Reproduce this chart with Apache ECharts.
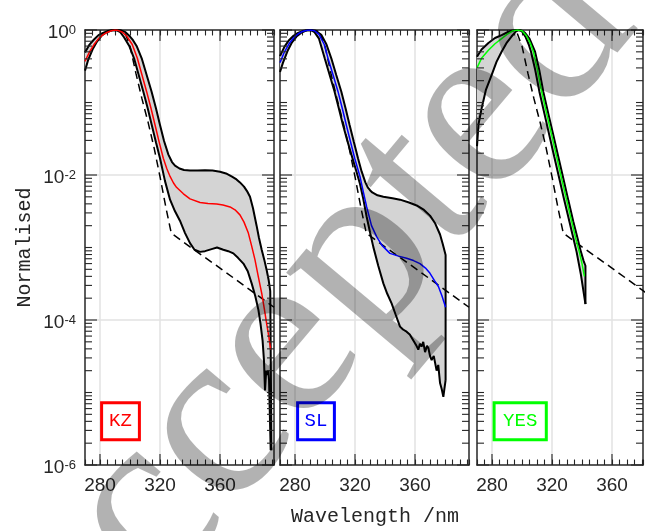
<!DOCTYPE html>
<html><head><meta charset="utf-8">
<script src="https://cdn.jsdelivr.net/npm/echarts@6/dist/echarts.min.js"></script>
<style>html,body{margin:0;padding:0;background:#fff}#c{width:647px;height:531px}</style>
</head><body><div id="c"></div>
<script>
// ---------------- data (wavelength in nm, normalised value) ----------------
const refWl  = [293, 296, 300, 304, 308, 312, 316, 320, 324, 327.5, 340, 360, 380, 396];
const refVal = [2.0, 1.0, 0.60, 0.25, 0.112, 0.054, 0.024, 0.0095, 0.0035, 0.00158, 0.00102, 5.2e-4, 2.6e-4, 1.5e-4];

// KZ
const kzHiWl  = [270, 273, 276, 279, 282, 285, 288, 291, 294, 297, 300, 302, 304.4, 307.8, 311.1, 314.4, 317.3, 320, 322.7, 325.6, 328, 330, 333, 336, 340, 345, 350, 355, 360, 364, 368, 371, 373.3, 376, 378, 380, 382, 384.4, 386, 387.8, 389.5, 391.1, 392.5, 393.5, 394.3];
const kzHiVal = [0.49, 0.63, 0.74, 0.85, 0.91, 0.966, 0.993, 1, 0.989, 0.933, 0.813, 0.724, 0.603, 0.407, 0.240, 0.141, 0.0832, 0.0490, 0.0295, 0.0191, 0.0151, 0.0135, 0.0123, 0.0117, 0.0115, 0.0115, 0.0116, 0.0115, 0.0111, 0.0105, 0.0095, 0.0087, 0.0079, 0.0069, 0.0060, 0.0050, 0.00347, 0.0020, 0.00135, 9.3e-4, 6.8e-4, 4.9e-4, 3.5e-4, 2.5e-4, 1.6e-6];
const kzMidWl  = [270, 273, 276, 279, 282, 285, 288, 290, 292, 295, 298, 301.5, 304.9, 308, 311.1, 314, 316.7, 319.5, 322.2, 324.5, 326.7, 329, 331, 335.6, 340, 346.7, 352, 357.8, 362, 366.7, 370, 373.3, 376, 378.9, 381, 383.3, 385.5, 387.8, 389.5, 391.1, 392.5, 393.8];
const kzMidVal = [0.37, 0.50, 0.63, 0.76, 0.86, 0.933, 0.982, 1, 0.989, 0.933, 0.813, 0.631, 0.407, 0.240, 0.141, 0.0832, 0.0490, 0.0282, 0.0170, 0.0123, 0.00955, 0.00776, 0.00676, 0.0055, 0.00468, 0.00417, 0.00403, 0.00398, 0.00385, 0.00363, 0.00331, 0.00282, 0.00224, 0.00158, 0.00107, 6.8e-4, 4.0e-4, 2.34e-4, 1.45e-4, 8.9e-5, 6.0e-5, 3.9e-5];
const kzLoWl  = [270, 272, 275, 278, 281, 284, 287, 289, 291, 293.5, 296, 299.5, 302.7, 305.8, 308.9, 311.8, 314.5, 317.3, 320, 323.3, 326.7, 330, 333.3, 336.7, 340, 343, 346.7, 350, 354.4, 358, 362.2, 365.5, 368.9, 372, 375.6, 378.5, 381.1, 383.5, 385.6, 387, 388.4, 389.3, 390, 390.8, 391.6, 392.2, 392.7, 393.8];
const kzLoVal = [0.275, 0.38, 0.537, 0.692, 0.832, 0.923, 0.977, 1, 0.993, 0.933, 0.794, 0.603, 0.407, 0.240, 0.141, 0.0832, 0.0490, 0.0282, 0.0170, 0.0083, 0.00457, 0.00316, 0.00234, 0.00158, 0.00115, 9.3e-4, 8.7e-4, 8.9e-4, 9.5e-4, 1.0e-3, 9.3e-4, 8.9e-4, 8.3e-4, 7.2e-4, 6.0e-4, 4.7e-4, 3.2e-4, 2.14e-4, 1.38e-4, 8.9e-5, 5.2e-5, 2.8e-5, 1.07e-5, 2.0e-5, 1.74e-5, 2.0e-5, 1.48e-5, 1.6e-6];

// SL
const slHiWl  = [270, 273, 276, 279, 282, 285, 288, 291, 294, 297.6, 301, 304.2, 307.5, 310.9, 313.7, 316.4, 319.2, 322, 324.4, 326.9, 328.5, 330, 331.5, 335, 338.9, 345, 350, 356, 361.1, 366, 370, 373.5, 376.7, 378.5, 380.4, 380.4];
const slHiVal = [0.437, 0.589, 0.724, 0.832, 0.912, 0.966, 0.993, 1, 0.977, 0.851, 0.631, 0.407, 0.240, 0.141, 0.0832, 0.049, 0.0288, 0.017, 0.0112, 0.0079, 0.00676, 0.00617, 0.00575, 0.00525, 0.005, 0.00479, 0.00457, 0.00417, 0.0038, 0.0033, 0.00275, 0.00214, 0.00151, 0.00112, 7.9e-4, 1.48e-5];
const slMidWl  = [270, 273, 276, 279, 282, 285, 288, 290.5, 293, 296, 299.5, 302, 305.4, 308.7, 311.5, 314.2, 317, 319.8, 323.3, 325.5, 327.8, 331, 334.4, 338, 343.3, 349, 354.4, 359, 363.3, 367, 370, 373, 375.6, 378, 380.4];
const slMidVal = [0.355, 0.501, 0.646, 0.776, 0.881, 0.955, 0.991, 1, 0.977, 0.871, 0.631, 0.407, 0.240, 0.141, 0.0832, 0.049, 0.0288, 0.017, 0.00955, 0.00589, 0.00363, 0.002, 0.00141, 0.00107, 8.3e-4, 7.6e-4, 7.1e-4, 6.6e-4, 6.0e-4, 5.2e-4, 4.4e-4, 3.5e-4, 2.9e-4, 2.14e-4, 1.5e-4];
const slLoWl  = [270, 272, 275, 278, 281, 284, 287, 289, 291, 293, 296, 299.8, 303.1, 306.4, 309.2, 312, 314.8, 317.6, 320.5, 323.3, 325.5, 327.8, 330, 332.2, 335.5, 338.9, 341.5, 344.4, 347, 350, 352, 354.4, 356.5, 358.9, 361, 362.2, 363.3, 364.4, 365.5, 366.7, 368, 368.9, 370, 371.1, 372.5, 373.5, 374.4, 375.5, 376.7, 377.8, 378.9, 379.6, 380.4];
const slLoVal = [0.263, 0.355, 0.513, 0.676, 0.813, 0.912, 0.977, 1, 0.989, 0.933, 0.759, 0.407, 0.240, 0.141, 0.0832, 0.049, 0.0302, 0.0191, 0.012, 0.00759, 0.00468, 0.00263, 0.00162, 0.00102, 5.6e-4, 3.2e-4, 2.3e-4, 1.7e-4, 1.2e-4, 8.1e-5, 7.4e-5, 6.9e-5, 6.3e-5, 5.2e-5, 4.4e-5, 3.9e-5, 4.7e-5, 4.3e-5, 5.0e-5, 3.6e-5, 4.4e-5, 4.1e-5, 3.2e-5, 2.8e-5, 3.2e-5, 2.5e-5, 2.0e-5, 2.4e-5, 1.35e-5, 1.12e-5, 8.7e-6, 1.12e-5, 1.48e-5];

// YES
const yesHiWl  = [270, 273, 277.6, 282, 286.4, 290, 293, 296, 298, 300, 302, 305, 308.7, 311.5, 314.2, 317.5, 320.9, 324.2, 327.6, 330.9, 334.2, 337, 339.3, 341, 342.3, 342.3];
const yesHiVal = [0.427, 0.537, 0.661, 0.776, 0.851, 0.923, 0.977, 1, 1, 0.977, 0.912, 0.759, 0.501, 0.282, 0.141, 0.0708, 0.0355, 0.0178, 0.0089, 0.00447, 0.00229, 0.00135, 8.7e-4, 6.6e-4, 5.6e-4, 1.66e-4];
const yesMidWl  = [270, 273, 277.6, 282, 286.4, 290, 294, 297, 300, 303, 305.5, 307.6, 310.3, 313.1, 316.4, 319.8, 323.1, 326.4, 329.8, 333.1, 336, 338.2, 340, 341.6];
const yesMidVal = [0.302, 0.407, 0.525, 0.646, 0.759, 0.871, 0.977, 1, 0.977, 0.832, 0.661, 0.501, 0.282, 0.141, 0.0708, 0.0355, 0.0178, 0.0089, 0.00447, 0.00229, 0.00129, 8.7e-4, 6.0e-4, 4.0e-4];
const yesLoWl  = [270, 271, 273.1, 276, 279.8, 283, 286.4, 290, 293, 296, 298, 300, 302.5, 304.5, 306, 308.8, 311.6, 314.9, 318.2, 321.5, 324.9, 328.2, 331.6, 334, 336.4, 339.3, 342.3];
const yesLoVal = [0.025, 0.05, 0.0832, 0.151, 0.24, 0.363, 0.501, 0.676, 0.813, 0.955, 1, 0.955, 0.794, 0.631, 0.501, 0.282, 0.141, 0.0708, 0.0355, 0.0178, 0.0089, 0.00447, 0.00229, 0.00141, 8.7e-4, 4.2e-4, 1.66e-4];

const panelNames  = ['KZ', 'SL', 'YES'];
const panelColors = ['#ff0000', '#0000ff', '#00ff00'];

// ticks / labels
const xTickLabels = [280, 320, 360];
const yLabelExps = [0, -2, -4, -6];
const yMajorTicks = [1e-6, 1e-4, 1e-2, 1];
const yGridVals = [1e-4, 1e-2];
const yMinorDecades = [1e-6, 1e-5, 1e-4, 1e-3, 1e-2, 1e-1];
const yMinorMults = [1, 2, 3, 4, 5, 6, 7, 8, 9];

// ---------------- layout ----------------
const gridBoxes = [
  {left: 85, top: 30, width: 189, height: 435},
  {left: 280, top: 30, width: 189, height: 435},
  {left: 477, top: 30, width: 166, height: 435}
];
const xMin = 270;
const xMaxs = [396, 396, 380.67];
const AX = '#262626';

const yMinorTicks = [];
yMinorDecades.forEach(d => yMinorMults.forEach(m => {
  const v = m * d;
  if (!(m === 1 && yMajorTicks.indexOf(d) >= 0)) yMinorTicks.push(v);
}));

const zip = (a, b) => a.map((w, i) => [w, b[i]]);

const xAxes = [], yAxes = [], series = [];
const panels = [
  {hiWl: kzHiWl, hiVal: kzHiVal, midWl: kzMidWl, midVal: kzMidVal, loWl: kzLoWl, loVal: kzLoVal},
  {hiWl: slHiWl, hiVal: slHiVal, midWl: slMidWl, midVal: slMidVal, loWl: slLoWl, loVal: slLoVal},
  {hiWl: yesHiWl, hiVal: yesHiVal, midWl: yesMidWl, midVal: yesMidVal, loWl: yesLoWl, loVal: yesLoVal}
];

panels.forEach((p, i) => {
  ['bottom', 'top'].forEach(pos => {
    xAxes.push({
      type: 'value', gridIndex: i, position: pos, min: xMin, max: xMaxs[i], interval: 5,
      axisLine: {show: true, onZero: false, lineStyle: {color: AX, width: 1.5}},
      axisTick: {show: true, inside: true, length: 5.5, lineStyle: {color: AX, width: 1.1}},
      axisLabel: {show: pos === 'bottom', margin: 11, color: AX, fontSize: 19, fontFamily: 'Liberation Sans',
        formatter: v => xTickLabels.indexOf(v) >= 0 ? String(v) : ''},
      splitLine: {show: false}
    });
  });
  ['left', 'right'].forEach(pos => {
    yAxes.push({
      type: 'log', logBase: 10, gridIndex: i, position: pos, min: 1e-6, max: 1,
      axisLine: {show: true, onZero: false, lineStyle: {color: AX, width: 1.5}},
      axisTick: {show: false},
      axisLabel: {show: (i === 0 && pos === 'left'), margin: 9, padding: [6, 0, 0, 0],
        formatter: v => { const e = Math.round(Math.log10(v)); return yLabelExps.indexOf(e) >= 0 ? '{b|10}{s|' + e + '}' : ''; },
        rich: {
          b: {fontSize: 19, fontFamily: 'Liberation Sans', color: AX, lineHeight: 19, verticalAlign: 'bottom'},
          s: {fontSize: 13, fontFamily: 'Liberation Sans', color: AX, lineHeight: 13, verticalAlign: 'top'}
        }},
      splitLine: {show: false}
    });
  });
  const xi = i * 2, yi = i * 2;
  // grid lines
  series.push({
    type: 'custom', xAxisIndex: xi, yAxisIndex: yi, z: 0, silent: true, clip: false,
    data: xTickLabels.map(x => [x, 1]),
    renderItem: (params, api) => {
      const cs = params.coordSys; const c = api.coord([api.value(0), api.value(1)]);
      return {type: 'line', shape: {x1: c[0], y1: cs.y, x2: c[0], y2: cs.y + cs.height}, style: {stroke: '#e2e2e2', lineWidth: 1.5}};
    }
  });
  series.push({
    type: 'custom', xAxisIndex: xi, yAxisIndex: yi, z: 0, silent: true, clip: false,
    data: yGridVals.map(v => [xMin, v]),
    renderItem: (params, api) => {
      const cs = params.coordSys; const c = api.coord([api.value(0), api.value(1)]);
      return {type: 'line', shape: {x1: cs.x, y1: c[1], x2: cs.x + cs.width, y2: c[1]}, style: {stroke: '#e2e2e2', lineWidth: 1.5}};
    }
  });
  // band fill
  series.push({
    type: 'custom', xAxisIndex: xi, yAxisIndex: yi, z: 1, silent: true,
    data: [[p.hiWl[0], p.hiVal[0]]],
    renderItem: (params, api) => {
      const pts = p.hiWl.map((w, k) => api.coord([w, p.hiVal[k]]));
      for (let k = p.loWl.length - 1; k >= 0; k--) pts.push(api.coord([p.loWl[k], p.loVal[k]]));
      return {type: 'polygon', shape: {points: pts}, style: {fill: '#d4d4d4', stroke: null}};
    }
  });
  const line = (wl, val, color, width, dash, z) => ({
    type: 'line', xAxisIndex: xi, yAxisIndex: yi, data: zip(wl, val), symbol: 'none', showSymbol: false,
    silent: true, z: z, clip: true, lineStyle: {color: color, width: width, type: dash ? [8, 5] : 'solid'}
  });
  series.push(line(refWl, refVal, '#000000', 1.5, true, 2));
  series.push(line(p.hiWl, p.hiVal, '#000000', 2, false, 3));
  series.push(line(p.loWl, p.loVal, '#000000', 2, false, 3));
  series.push(line(p.midWl, p.midVal, panelColors[i], 1.5, false, 4));
  // ticks (minor + major on log axis, major on x)
  const yTick = (vals, len) => ({
    type: 'custom', xAxisIndex: xi, yAxisIndex: yi, z: 6, silent: true, clip: false,
    data: vals.map(v => [xMin, v]),
    renderItem: (params, api) => {
      const cs = params.coordSys; const y = api.coord([api.value(0), api.value(1)])[1];
      const st = {stroke: AX, lineWidth: 1.1};
      return {type: 'group', children: [
        {type: 'line', shape: {x1: cs.x, y1: y, x2: cs.x + len, y2: y}, style: st},
        {type: 'line', shape: {x1: cs.x + cs.width - len, y1: y, x2: cs.x + cs.width, y2: y}, style: st}
      ]};
    }
  });
  series.push(yTick(yMinorTicks, 7));
  series.push(yTick(yMajorTicks, 12));
  series.push({
    type: 'custom', xAxisIndex: xi, yAxisIndex: yi, z: 6, silent: true, clip: false,
    data: xTickLabels.map(x => [x, 1]),
    renderItem: (params, api) => {
      const cs = params.coordSys; const x = api.coord([api.value(0), api.value(1)])[0];
      const st = {stroke: AX, lineWidth: 1.1};
      return {type: 'group', children: [
        {type: 'line', shape: {x1: x, y1: cs.y, x2: x, y2: cs.y + 11}, style: st},
        {type: 'line', shape: {x1: x, y1: cs.y + cs.height - 11, x2: x, y2: cs.y + cs.height}, style: st}
      ]};
    }
  });
});

const boxPos = [[120.5, 421.3, 7.5], [316, 421.3, 7], [520.2, 421.3, 9]];
const graphics = panelNames.map((n, i) => ({
  type: 'text', x: boxPos[i][0], y: boxPos[i][1], z: 50, silent: true,
  style: {text: n, font: '19px "Liberation Mono"', fill: panelColors[i], align: 'center', verticalAlign: 'middle',
    textAlign: 'center', textVerticalAlign: 'middle', lineHeight: 19,
    padding: [9, boxPos[i][2]], borderColor: panelColors[i], borderWidth: 1.5, backgroundColor: 'rgba(255,255,255,0)'}
}));
graphics.push({type: 'text', x: 375, y: 517, z: 50, silent: true,
  style: {text: 'Wavelength /nm', font: '20px "Liberation Mono"', fill: AX, align: 'center', verticalAlign: 'middle', textAlign: 'center', textVerticalAlign: 'middle'}});
graphics.push({type: 'text', x: 25, y: 247.5, rotation: Math.PI / 2, z: 50, silent: true,
  style: {text: 'Normalised', font: '20px "Liberation Mono"', fill: AX, align: 'center', verticalAlign: 'middle', textAlign: 'center', textVerticalAlign: 'middle'}});
graphics.push({type: 'text', x: -4, y: 693, rotation: 50 * Math.PI / 180, z: 100, silent: true,
  style: {text: 'Accepted', font: '245px "Liberation Serif"', fill: 'rgba(0,0,0,0.3)', align: 'left', verticalAlign: 'middle', textAlign: 'left', textVerticalAlign: 'middle'}});

const chart = echarts.init(document.getElementById('c'), null, {renderer: 'canvas', width: 647, height: 531});
chart.setOption({
  animation: false,
  backgroundColor: '#ffffff',
  grid: gridBoxes,
  xAxis: xAxes,
  yAxis: yAxes,
  series: series,
  graphic: {elements: graphics}
});
</script>
</body></html>
